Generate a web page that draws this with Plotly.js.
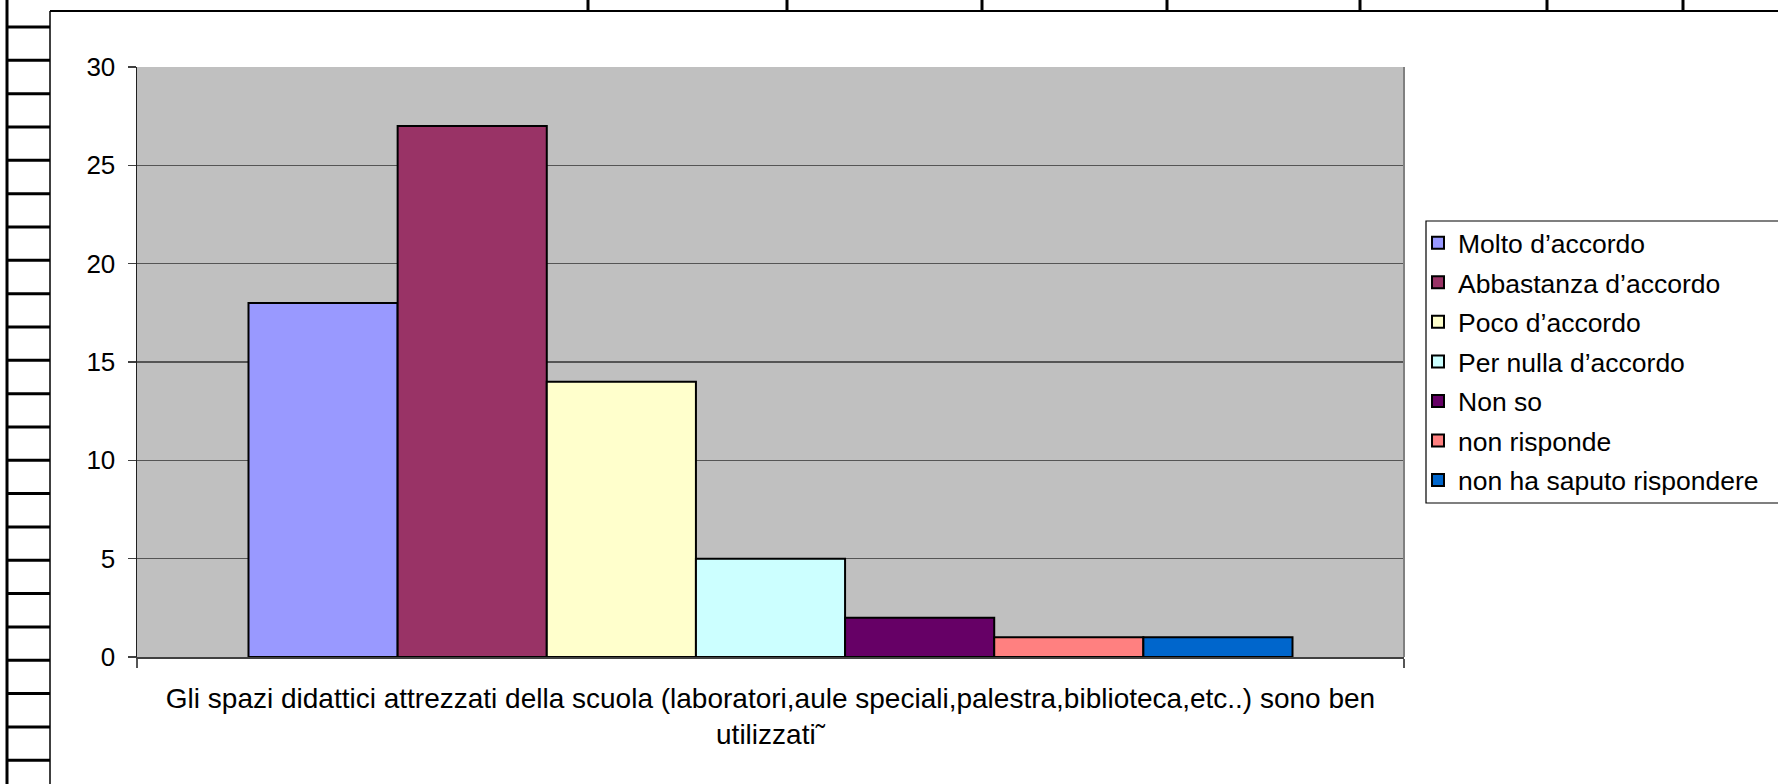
<!DOCTYPE html>
<html>
<head>
<meta charset="utf-8">
<script src="https://cdn.plot.ly/plotly-3.0.1.min.js"></script>
<style>
  html, body { margin: 0; padding: 0; background: #ffffff; }
  #chart { width: 1778px; height: 784px; }
</style>
</head>
<body>
<div id="chart"></div>
<script>
// ---- data ----
const categories = ["Gli spazi didattici attrezzati della scuola (laboratori,aule speciali,palestra,biblioteca,etc..) sono ben<br>utilizzati\u02DC"];
const seriesNames = [
  "Molto d\u2019accordo",
  "Abbastanza d\u2019accordo",
  "Poco d\u2019accordo",
  "Per nulla d\u2019accordo",
  "Non so",
  "non risponde",
  "non ha saputo rispondere"
];
const seriesValues = [18, 27, 14, 5, 2, 1, 1];
const yTickValues = [0, 5, 10, 15, 20, 25, 30];

// ---- styles ----
const seriesColors = ["#9999FF", "#993366", "#FFFFCC", "#CCFFFF", "#660066", "#FF8080", "#0066CC"];
const FONT = "Liberation Sans, Arial, Helvetica, sans-serif";

// page geometry (pixels)
const W = 1778, H = 784;
const PL = 137, PR = 1404, PT = 67, PB = 657;
const pw = PR - PL, ph = PB - PT;
const px = x => (x - PL) / pw;
const py = y => (PB - y) / ph;

const traces = seriesNames.map((name, i) => ({
  type: "bar",
  name: name,
  x: categories,
  y: [seriesValues[i]],
  legendgroup: "g" + i,
  marker: { color: seriesColors[i], line: { color: "#000000", width: 2 } },
  hoverinfo: "skip"
}));

// decorative spreadsheet/frame lines
const shapes = [];
function line(x0, y0, x1, y1, w, c) {
  shapes.push({ type: "line", xref: "paper", yref: "paper",
    x0: px(x0), y0: py(y0), x1: px(x1), y1: py(y1),
    line: { color: c || "#000000", width: w }, layer: "above" });
}
// left row-header strip
line(7, 0, 7, H, 3);
for (let k = 0; k < 24; k++) {
  const y = 27 + k * 33.33;
  line(7, y, 50, y, 3);
}
// chart frame
line(50, 11, 50, H, 1.5);
line(50, 11, W, 11, 2);
// column separators above the chart
[588, 787, 982, 1167, 1360, 1547, 1683].forEach(x => line(x, 0, x, 11, 3));
// plot-area right edge
shapes.push({ type: "line", xref: "paper", yref: "paper", x0: 1, x1: 1, y0: 0, y1: 1,
  line: { color: "#808080", width: 2 }, layer: "above" });
// legend frame
shapes.push({ type: "rect", xref: "paper", yref: "paper",
  x0: px(1426), x1: px(1800), y0: py(221), y1: py(503),
  line: { color: "#000000", width: 1.2 }, fillcolor: "rgba(0,0,0,0)", layer: "above" });

const layout = {
  width: W, height: H,
  margin: { l: PL, r: W - PR, t: PT, b: H - PB, autoexpand: false },
  paper_bgcolor: "#ffffff",
  plot_bgcolor: "#C0C0C0",
  font: { family: FONT, size: 26, color: "#000000" },
  barmode: "group",
  bargap: 0.176,
  bargroupgap: 0,
  showlegend: true,
  legend: {
    x: px(1418), xanchor: "left",
    y: py(219), yanchor: "top",
    bgcolor: "rgba(0,0,0,0)",
    borderwidth: 0,
    font: { family: FONT, size: 26.5, color: "#000000" },
    tracegroupgap: 2.1,
    traceorder: "grouped"
  },
  xaxis: {
    type: "category",
    tickson: "boundaries",
    ticks: "outside",
    ticklen: 9,
    tickwidth: 1.5,
    tickcolor: "#555555",
    showline: true,
    linecolor: "#404040",
    linewidth: 2,
    showgrid: false,
    tickfont: { family: FONT, size: 28, color: "#000000" },
    ticklabelstandoff: 15,
    fixedrange: true
  },
  yaxis: {
    range: [0, 30],
    tickvals: yTickValues,
    ticktext: yTickValues.map(String),
    ticks: "outside",
    ticklen: 8,
    tickwidth: 1.5,
    tickcolor: "#404040",
    showline: true,
    linecolor: "#202020",
    linewidth: 1.5,
    showgrid: true,
    gridcolor: "#555555",
    gridwidth: 1.5,
    zeroline: false,
    tickfont: { family: FONT, size: 26, color: "#000000" },
    ticklabelstandoff: 7,
    fixedrange: true
  },
  shapes: shapes
};

Plotly.newPlot("chart", traces, layout, { staticPlot: true, displayModeBar: false });
</script>
</body>
</html>
